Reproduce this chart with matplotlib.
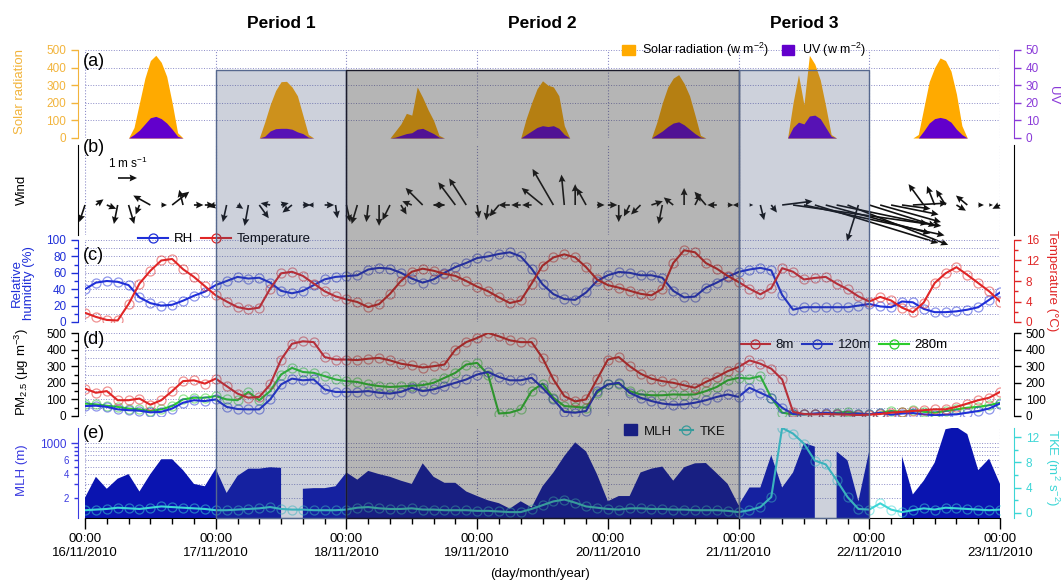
import numpy as np
import matplotlib
matplotlib.use("Agg")
import matplotlib.pyplot as plt
import matplotlib.transforms as mtransforms
from matplotlib.patches import Rectangle, Patch
from matplotlib.lines import Line2D
from matplotlib.ticker import FixedLocator, FuncFormatter, MultipleLocator

plt.rcParams['font.family'] = ['Liberation Sans', 'DejaVu Sans']
plt.rcParams['mathtext.fontset'] = 'custom'
plt.rcParams['mathtext.rm'] = 'Liberation Sans'
plt.rcParams['mathtext.it'] = 'Liberation Sans:italic'

# ---------------- data ----------------
day_labels = ['16/11/2010', '17/11/2010', '18/11/2010', '19/11/2010',
              '20/11/2010', '21/11/2010', '22/11/2010', '23/11/2010']
hours = np.arange(0, 169, 2)          # 2-hourly, hours since 16/11 00:00
periods = [('Period 1', 24, 48), ('Period 2', 48, 120), ('Period 3', 120, 144)]

sun_hours = [8, 9, 10, 11, 12, 13, 14, 15, 16, 17, 18]
solar = [
    [0, 60, 200, 340, 440, 470, 430, 350, 200, 30, 0],
    [0, 90, 190, 270, 320, 322, 290, 240, 130, 20, 0],
    [0, 40, 80, 140, 130, 290, 230, 160, 100, 15, 0],
    [0, 110, 200, 280, 325, 300, 290, 240, 70, 0, 0],
    [0, 90, 200, 290, 340, 360, 310, 240, 130, 15, 0],
    [0, 0, 200, 360, 190, 470, 420, 330, 180, 20, 0],
    [0, 20, 170, 320, 400, 455, 440, 380, 250, 70, 0],
]
uv = [
    [0, 2, 4.5, 8, 11.5, 12.3, 11, 8.5, 5, 1, 0],
    [0, 1, 4, 5.3, 5.5, 5.5, 5, 3.5, 2.5, 0.5, 0],
    [0, 0.5, 1.5, 2.5, 3, 5, 5.5, 4, 2.5, 0.5, 0],
    [0, 2, 4, 6, 7, 6.5, 7, 5.5, 2, 0, 0],
    [0, 2, 4, 6.5, 8.5, 9.2, 7.5, 5, 2.5, 0.5, 0],
    [0, 0, 6, 9, 8, 12.5, 13, 11, 6, 1, 0],
    [0, 0, 4, 8.5, 11, 11.7, 11, 9, 5, 2, 0],
]

wind_u = [-0.3, 0.4, 0.5, -0.2, 0.3, -0.2, -0.9, 0.3, 0.9, -0.2, 0.5, 0.5,
          -0.4, -0.2, 0.3, -0.2, 0.5, -0.5, 0.4, -0.5, 0.4, -0.3, 0.5, 0.1,
          0.2, -0.3, -0.1, 0.0, -0.4, 0.3, -0.5, -0.9, 0.6, -0.6, -0.9, -0.9,
          0.1, -0.1, -0.5, -0.6, -0.5, -0.5, -1.1, -1.1, -0.15, 0.0, -0.5, 0.4,
          0.5, 0.0, -0.3, -0.5, 0.6, -0.2, -0.5, 0.0, 0.3, -0.6, -0.5, 0.3,
          -0.3, 0.2, 0.2, 0.3, 1.6, 7.8, 7.4, 6.5, 5.5, 4.8, 5.3, -0.6,
          3.5, 3.2, 2.5, 1.5, 1.8, -0.8, -0.4, -0.5, 0.5, -0.6, 0.3, 0.2,
          -0.4]
wind_v = [-0.9, 0.3, -0.2, -1.0, -1.0, -0.5, 0.5, 0.0, 0.7, 0.8, 0.0, 0.0,
          -0.1, -0.9, -0.2, -1.1, -0.7, 0.1, 0.1, -0.4, 0.0, 0.0, 0.0, -0.7,
          -0.9, -1.0, -0.9, -1.1, -0.8, -0.5, 0.2, 0.9, 0.0, 0.0, 1.2, 1.4,
          -0.7, -0.8, -0.6, 0.0, 0.0, 0.0, 0.9, 1.9, 1.6, 1.1, 0.9, 0.0,
          0.0, -0.9, -0.6, -0.5, 0.2, -1.0, 0.4, 0.9, 0.6, 0.7, 0.0, 0.0,
          0.0, 0.0, -0.8, -0.4, 0.2, -1.1, -1.6, -2.0, -1.5, -1.0, -2.1, -1.9,
          -1.1, -0.9, -0.5, -0.2, 0.1, 1.1, 1.0, 0.8, -0.3, 0.5, 0.0, 0.0,
          -0.2]

rh = [40, 48, 50, 49, 45, 30, 23, 20, 21, 26, 32, 37,
      45, 50, 55, 53, 54, 48, 38, 35, 38, 45, 52, 55,
      56, 57, 64, 66, 65, 60, 53, 48, 52, 60, 67, 72,
      78, 80, 83, 85, 80, 65, 46, 34, 28, 27, 36, 50,
      57, 61, 60, 57, 57, 54, 38, 30, 31, 42, 48, 55,
      61, 64, 66, 63, 33, 15, 18, 18, 18, 18, 18, 20,
      22, 19, 18, 25, 24, 16, 12, 12, 13, 15, 18, 27,
      36]
temp = [1.8, 1.0, 0.4, 0.3, 3.5, 7.5, 10.0, 12.0, 12.3, 10.3, 8.8, 7.0,
        5.2, 4.0, 2.9, 2.5, 2.8, 6.5, 9.5, 9.8, 9.0, 7.5, 6.0, 5.0,
        4.4, 3.9, 2.9, 3.5, 5.5, 8.0, 9.8, 10.4, 10.0, 9.4, 9.0, 8.0,
        6.9, 6.0, 4.8, 3.7, 4.2, 7.5, 11.0, 12.6, 13.2, 12.6, 10.7, 8.3,
        7.2, 6.7, 6.1, 5.5, 5.2, 6.5, 11.5, 14.0, 13.6, 11.5, 10.4, 9.0,
        7.8, 6.5, 5.4, 6.6, 10.5, 9.8, 8.3, 8.6, 8.8, 7.5, 6.4, 5.0,
        4.0, 4.9, 4.2, 2.8, 1.9, 3.8, 7.6, 9.5, 10.7, 9.2, 7.6, 6.0,
        4.0]

pm_8m = [165, 140, 150, 95, 95, 105, 68, 95, 150, 210, 215, 195,
         225, 180, 135, 110, 115, 190, 340, 435, 450, 445, 355, 340,
         340, 337, 345, 350, 335, 315, 305, 292, 300, 310, 400, 445,
         470, 500, 480, 456, 445, 445, 350, 220, 120, 88, 100, 220,
         340, 355, 300, 255, 225, 210, 200, 185, 170, 205, 235, 270,
         295, 335, 315, 285, 220, 25, 12, 10, 12, 10, 8, 5,
         8, 12, 20, 25, 30, 35, 40, 40, 55, 75, 95, 110,
         145]
pm_120m = [60, 62, 55, 40, 35, 32, 22, 25, 45, 80, 95, 90,
           100, 55, 42, 40, 40, 100, 190, 225, 215, 220, 160, 145,
           145, 145, 150, 140, 135, 145, 170, 150, 160, 180, 200, 220,
           250, 265, 235, 215, 215, 230, 170, 100, 25, 20, 30, 150,
           190, 200, 140, 110, 90, 75, 68, 70, 80, 95, 115, 130,
           115, 170, 140, 110, 50, 12, 10, 15, 20, 15, 12, 15,
           10, 20, 8, 15, 18, 10, 5, 8, 10, 20, 30, 45,
           75]
pm_280m = [75, 70, 62, 55, 45, 40, 30, 40, 60, 100, 110, 110,
           120, 100, 95, 145, 95, 150, 250, 290, 265, 260, 240, 220,
           210, 205, 190, 180, 175, 178, 182, 186, 200, 230, 260, 310,
           320, 250, 15, 20, 40, 150, 195, 110, 60, 55, 50, 140,
           190, 195, 150, 130, 125, 125, 130, 128, 130, 150, 175, 215,
           230, 225, 240, 110, 20, 10, 10, 12, 15, 20, 25, 15,
           10, 20, 30, 25, 35, 25, 20, 30, 40, 50, 55, 65,
           80]

nan = np.nan
mlh = [200, 370, 260, 350, 400, 240, 400, 620, 620, 450, 300, 280,
       470, 230, 380, 470, 470, 490, 480, nan, 260, 265, 265, 280,
       420, 340, 440, 400, 370, 330, 300, 550, 370, 310, 310, 240,
       210, 185, 170, 145, 180, 150, 280, 420, 680, 1020, 780, 400,
       180, 210, 210, 420, 470, 500, 330, 490, 550, 555, 410, 300,
       160, 270, 270, 700, 270, 420, 1000, 900, nan, 780, 600, 180,
       800, nan, nan, 680, 220, 330, 560, 1500, 1600, 1300, 450, 630,
       300]
tke = [0.4, 0.5, 0.6, 0.8, 0.7, 0.6, 0.8, 1.0, 0.9, 0.8, 0.7, 0.6,
       0.4, 0.4, 0.5, 0.6, 0.7, 0.9, 0.6, 0.5, 0.5, 0.4, 0.4, 0.4,
       0.5, 0.8, 0.9, 0.7, 0.6, 0.6, 0.7, 0.5, 0.5, 0.4, 0.4, 0.4,
       0.3, 0.3, 0.2, 0.1, 0.1, 0.6, 1.2, 1.8, 2.1, 1.6, 1.0, 0.8,
       0.6, 0.5, 0.7, 0.7, 0.6, 0.6, 0.5, 0.5, 0.4, 0.4, 0.4, 0.3,
       0.1, 0.4, 0.9, 2.5, 13.5, 12.6, 11.0, 8.3, 7.7, 5.2, 2.5, 0.6,
       0.5, 1.5, 0.5, 0.1, 0.4, 0.7, 0.5, 0.8, 0.7, 0.6, 0.5, 0.4,
       0.5]

# ---------------- style ----------------
ORANGE = '#ffaa00'
SOLAR_TXT = '#f2b43c'
PURPLE = '#6200cc'
PURPLE_AX = '#8a3ad8'
BLUE = '#1f2fd8'
RED = '#e02626'
GREEN = '#2ccc2c'
NAVY = '#0a14b0'
CYAN = '#3cd6d6'
GRID = '#8c8cc8'

W, H = 1064, 581
fig = plt.figure(figsize=(W / 100, H / 100), dpi=100)


def box(x0, y0, x1, y1):
    return [x0 / W, 1 - y1 / H, (x1 - x0) / W, (y1 - y0) / H]


def base(ax, color):
    ax.set_xlim(0, 168)
    ax.patch.set_visible(False)
    for s in ['top', 'bottom', 'right']:
        ax.spines[s].set_visible(False)
    ax.spines['left'].set_position(('outward', 5))
    ax.spines['left'].set_color(color)
    ax.tick_params(axis='y', which='both', colors=color, labelcolor=color,
                   direction='out', labelsize=8.5, width=1)
    ax.tick_params(axis='y', which='major', length=5)
    ax.tick_params(axis='y', which='minor', length=3)
    ax.set_xticks(np.arange(0, 169, 24))
    ax.tick_params(axis='x', bottom=False, labelbottom=False)
    ax.grid(True, axis='x', ls=':', color=GRID, lw=0.8)
    ax.grid(True, axis='y', which='both', ls=':', color=GRID, lw=0.7)


def right(ax, color):
    ax.patch.set_visible(False)
    for s in ['top', 'bottom', 'left']:
        ax.spines[s].set_visible(False)
    ax.spines['right'].set_position(('outward', 10))
    ax.spines['right'].set_color(color)
    ax.tick_params(axis='y', which='both', colors=color, labelcolor=color,
                   direction='out', labelsize=8.5, width=1)
    ax.tick_params(axis='y', which='major', length=5)
    ax.tick_params(axis='y', which='minor', length=3)
    ax.tick_params(axis='x', bottom=False, labelbottom=False)


def series(ax, y, color):
    ax.plot(hours, y, color=color, lw=1.5, zorder=3)
    ax.plot(hours, y, 'o', mfc='none', mec=color, ms=6.5, mew=0.9,
            alpha=0.5, zorder=3)


def lhandle(color):
    return Line2D([], [], color=color, lw=1.5, marker='o', mfc='none',
                  mec=color, ms=6.5, mew=0.9)


X0, X1 = 85, 1000

# (a) solar radiation / UV
ax_a = fig.add_axes(box(X0, 50, X1, 138))
base(ax_a, SOLAR_TXT)
ax_a.set_ylim(0, 500)
ax_a.set_yticks(range(0, 501, 100))
ax_a2 = ax_a.twinx()
right(ax_a2, PURPLE_AX)
ax_a2.set_ylim(0, 50)
ax_a2.set_yticks(range(0, 51, 10))
for i in range(7):
    hh = np.array(sun_hours) + 24 * i
    ax_a.fill_between(hh, solar[i], color=ORANGE, lw=0, zorder=2)
    ax_a2.fill_between(hh, uv[i], color=PURPLE, lw=0, zorder=2)

# (b) wind
ax_b = fig.add_axes(box(X0, 145, X1, 235))
base(ax_b, 'black')
ax_b.grid(False, axis='y', which='both')
ax_b.spines['right'].set_visible(True)
ax_b.spines['right'].set_position(('outward', 10))
ax_b.set_ylim(-30, 60)
ax_b.set_yticks([])
q = ax_b.quiver(hours, np.zeros(len(hours)), wind_u, wind_v, angles='uv',
                scale_units='inches', scale=1 / 0.19, width=0.0018,
                headwidth=4.2, headlength=4.5, headaxislength=4,
                color='#111111', zorder=4)
q.set_clip_on(False)
ax_b.quiverkey(q, 127.5 / W, 1 - 178 / H, 1, '1 m s$^{-1}$', labelpos='N',
               coordinates='figure', labelsep=0.07,
               fontproperties={'size': 8.5})

# (c) RH / temperature
ax_c = fig.add_axes(box(X0, 240, X1, 322))
base(ax_c, BLUE)
ax_c.set_ylim(0, 100)
ax_c.set_yticks(range(0, 101, 20))
ax_c.yaxis.set_minor_locator(MultipleLocator(10))
ax_c2 = ax_c.twinx()
right(ax_c2, RED)
ax_c2.set_ylim(0, 16)
ax_c2.set_yticks(range(0, 17, 4))
ax_c2.yaxis.set_minor_locator(MultipleLocator(2))
series(ax_c, rh, BLUE)
series(ax_c2, temp, RED)

# (d) PM2.5
ax_d = fig.add_axes(box(X0, 333, X1, 416))
base(ax_d, 'black')
ax_d.set_ylim(0, 500)
ax_d.set_yticks(range(0, 501, 100))
ax_d.yaxis.set_minor_locator(MultipleLocator(50))
ax_d2 = ax_d.twinx()
right(ax_d2, 'black')
ax_d2.set_ylim(0, 500)
ax_d2.set_yticks(range(0, 501, 100))
series(ax_d, pm_280m, GREEN)
series(ax_d, pm_120m, BLUE)
series(ax_d, pm_8m, RED)

# (e) MLH / TKE
ax_e = fig.add_axes(box(X0, 428, X1, 518))
base(ax_e, '#3a3ae0')
ax_e.set_yscale('log')
ax_e.set_ylim(110, 1555)
ax_e.yaxis.set_major_locator(FixedLocator([1000]))
ax_e.yaxis.set_major_formatter(FuncFormatter(lambda v, p: '1000'))
ax_e.yaxis.set_minor_locator(FixedLocator([200, 300, 400, 500, 600, 700, 800, 900]))
ax_e.yaxis.set_minor_formatter(FuncFormatter(
    lambda v, p: {200: '2', 400: '4', 600: '6'}.get(int(round(v)), '')))
ax_e.tick_params(axis='y', which='minor', labelsize=7)
ax_e.fill_between(hours, mlh, 100, color=NAVY, lw=0, zorder=2)
ax_e2 = ax_e.twinx()
right(ax_e2, CYAN)
ax_e2.set_ylim(-0.84, 13.49)
ax_e2.set_yticks(range(0, 13, 4))
ax_e2.yaxis.set_minor_locator(MultipleLocator(2))
series(ax_e2, tke, CYAN)

# x axis on the bottom panel
ax_e.spines['bottom'].set_visible(True)
ax_e.spines['bottom'].set_color('black')
ax_e.set_xticks(np.arange(0, 169, 24))
ax_e.set_xticklabels(['00:00\n' + d for d in day_labels])
ax_e.xaxis.set_minor_locator(MultipleLocator(4))
ax_e.tick_params(axis='x', which='both', bottom=True, labelbottom=True,
                 direction='out', colors='black', labelsize=9.5, width=1)
ax_e.tick_params(axis='x', which='major', length=8, pad=3)
ax_e.tick_params(axis='x', which='minor', length=4)

# period shading on top of all panels
blend = mtransforms.blended_transform_factory(ax_e.transData, fig.transFigure)
shade = {'Period 1': ((0.22, 0.29, 0.45, 0.25), '#56688e'),
         'Period 2': ((0.2, 0.2, 0.2, 0.36), '#1a1a2a'),
         'Period 3': ((0.22, 0.29, 0.45, 0.25), '#56688e')}
for name, s, e in periods:
    fc, ec = shade[name]
    fig.add_artist(Rectangle((s, 1 - 518 / H), e - s, (518 - 70) / H,
                             transform=blend, facecolor=fc, edgecolor=ec,
                             lw=1, zorder=10))
    fig.text((s + e) / 2, 1 - 24 / H, name, transform=blend, ha='center',
             va='center', fontsize=12.5, fontweight='bold')

# panel letters
for lab, y in [('(a)', 62), ('(b)', 148), ('(c)', 255), ('(d)', 340), ('(e)', 434)]:
    fig.text(83 / W, 1 - y / H, lab, fontsize=13, va='center', ha='left')

# axis titles
def ylab(x, y, s, color, rot):
    fig.text(x / W, 1 - y / H, s, color=color, rotation=rot, ha='center',
             va='center', fontsize=9.5, linespacing=1.1)

ylab(20, 92, 'Solar radiation', SOLAR_TXT, 90)
ylab(1053, 95, 'UV', PURPLE_AX, 270)
ylab(22, 190, 'Wind', 'black', 90)
ylab(23, 283, 'Relative\nhumidity (%)', BLUE, 90)
ylab(1052, 281, 'Temperature (°C)', RED, 270)
ylab(22, 372, 'PM$_{2.5}$ (μg m$^{-3}$)', 'black', 90)
ylab(22, 470, 'MLH (m)', '#3a3ae0', 90)
ylab(1052, 468, 'TKE (m$^2$ s$^{-2}$)', CYAN, 270)
fig.text(540 / W, 1 - 574 / H, '(day/month/year)', ha='center', va='center',
         fontsize=9.5)

# legends
fig.legend([Patch(color=ORANGE), Patch(color=PURPLE)],
           ['Solar radiation (w m$^{-2}$)', 'UV (w m$^{-2}$)'],
           loc='center left', bbox_to_anchor=(622 / W, 1 - 50 / H), ncol=2,
           frameon=False, fontsize=9, handlelength=1.0, handleheight=0.9,
           columnspacing=1.0, handletextpad=0.6, borderaxespad=0, borderpad=0)
fig.legend([lhandle(BLUE), lhandle(RED)], ['RH', 'Temperature'],
           loc='center left', bbox_to_anchor=(138 / W, 1 - 239 / H), ncol=2,
           frameon=False, fontsize=9.5, handlelength=2.3,
           columnspacing=0.6, handletextpad=0.4, borderaxespad=0, borderpad=0)
fig.legend([lhandle(RED), lhandle(BLUE), lhandle(GREEN)], ['8m', '120m', '280m'],
           loc='center left', bbox_to_anchor=(740 / W, 1 - 345 / H), ncol=3,
           frameon=False, fontsize=9.5, handlelength=2.3,
           columnspacing=0.6, handletextpad=0.4, borderaxespad=0, borderpad=0)
fig.legend([Patch(color=NAVY), lhandle(CYAN)], ['MLH', 'TKE'],
           loc='center left', bbox_to_anchor=(624 / W, 1 - 431 / H), ncol=2,
           frameon=False, fontsize=9.5, handlelength=1.0, handleheight=0.9,
           columnspacing=0.6, handletextpad=0.5, borderaxespad=0, borderpad=0)

fig.savefig('out.png', dpi=100)
